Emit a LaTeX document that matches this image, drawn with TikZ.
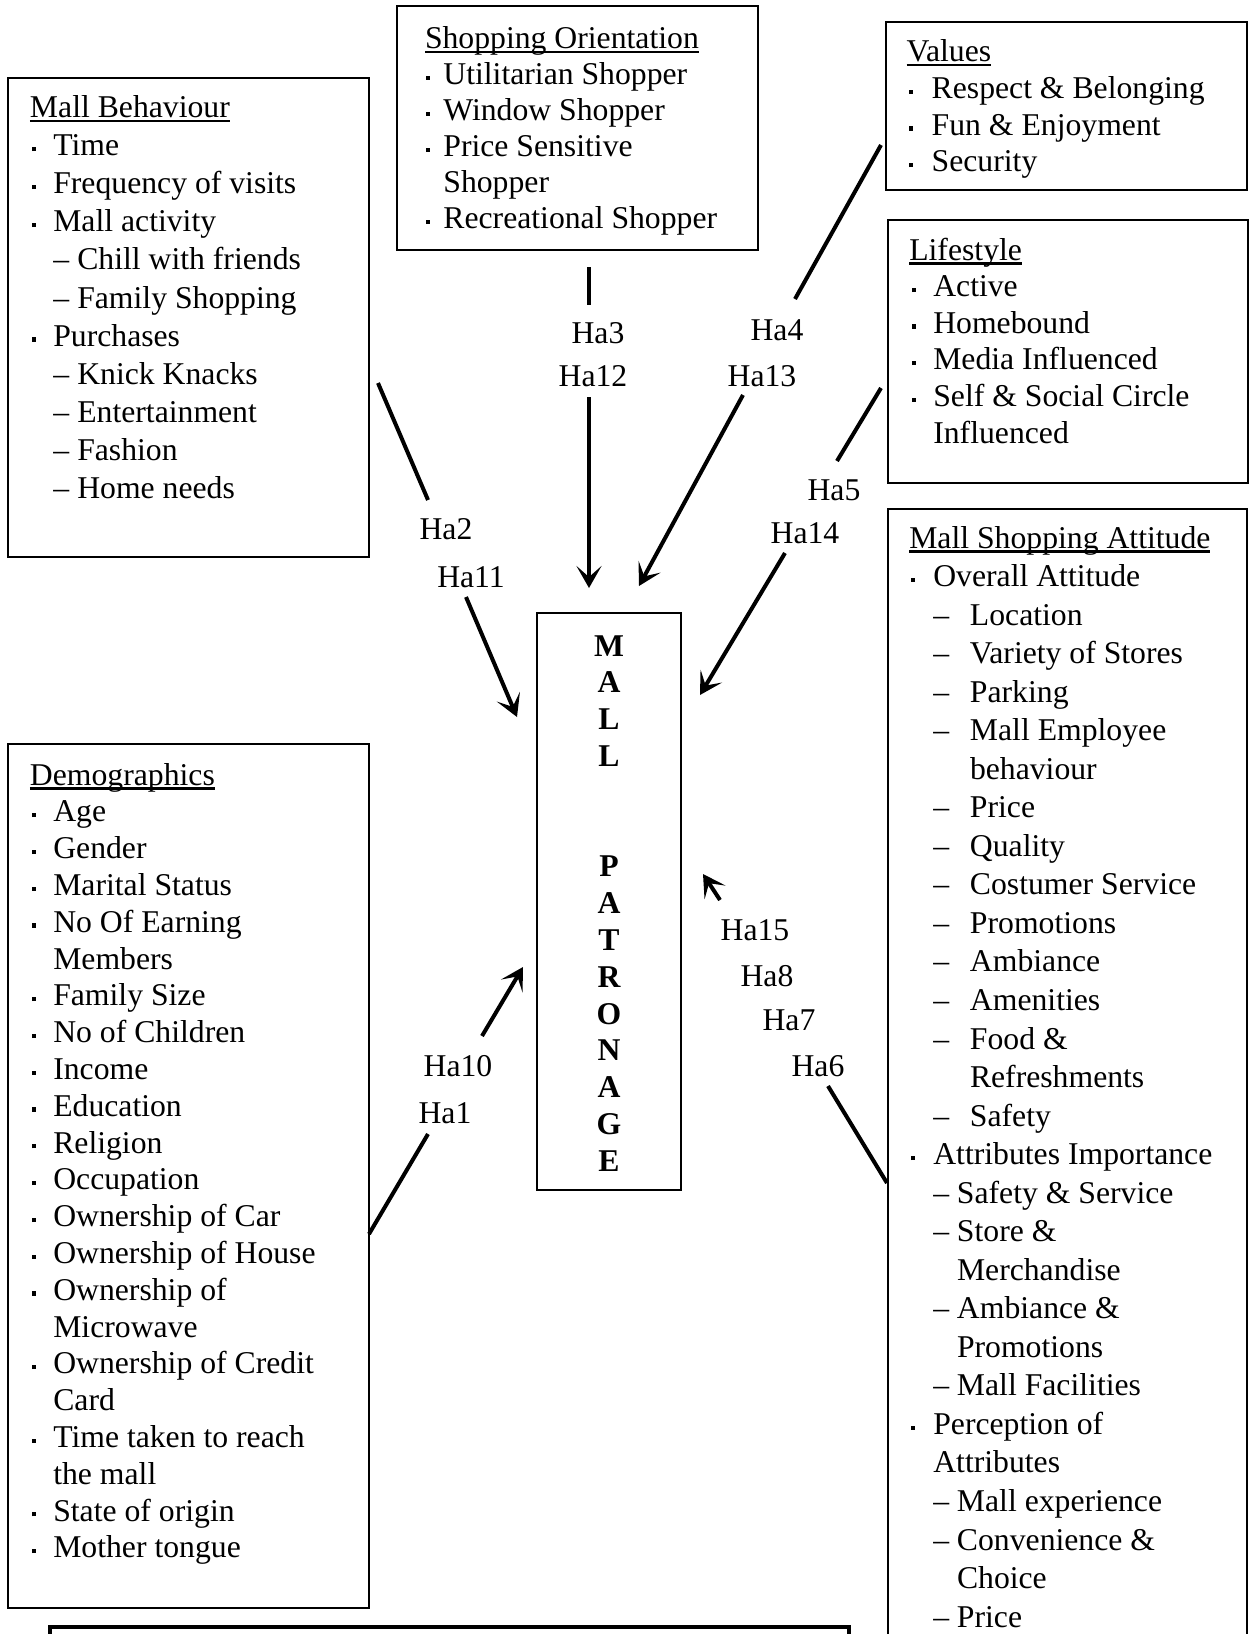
\documentclass[tikz,border=0pt]{standalone}
\usepackage{fontspec}
\setmainfont{Liberation Serif}
\usetikzlibrary{arrows.meta}

\newdimen\bulo \newdimen\txto \newdimen\dsho \newdimen\dtxo \newdimen\dshA \newdimen\dtxA
\newcommand\bulsq{\raisebox{2.3pt}{\rule{1.9pt}{2.1pt}}}
\newcommand\ulx[1]{\setbox0\hbox{#1}\rlap{\rule[-2.3pt]{\wd0}{1.1pt}}\box0}
\newcommand\TT[1]{\hbox{\ulx{#1}}}
\newcommand\BL[1]{\hbox{\rlap{\hskip\bulo\relax\bulsq}\hskip\txto\relax #1}}
\newcommand\CN[1]{\hbox{\hskip\txto\relax #1}}
\newcommand\DS[1]{\hbox{\rlap{\hskip\dsho\relax\textendash}\hskip\dtxo\relax #1}}
\newcommand\DC[1]{\hbox{\hskip\dtxo\relax #1}}
\newcommand\DA[1]{\hbox{\rlap{\hskip\dshA\relax\textendash}\hskip\dtxA\relax #1}}
\newcommand\DAC[1]{\hbox{\hskip\dtxA\relax #1}}
\newcommand\ctrl[1]{\hbox to 0pt{\hss#1\hss}}
\newcommand\boxlines[2]{\vtop{\baselineskip=#1\lineskiplimit=-\maxdimen\lineskip=0pt #2}}

\begin{document}
\begin{tikzpicture}[x=0.5pt,y=-0.5pt,
  font=\fontsize{15.85pt}{18.4pt}\selectfont,
  boxst/.style={draw, line width=1.1pt, inner sep=0pt, outer sep=0pt, anchor=north west},
  txt/.style={anchor=base west, inner sep=0pt, outer sep=0pt},
  lab/.style={inner sep=0pt, outer sep=0pt},
  conn/.style={line width=2pt},
  arr/.style={conn, -{Stealth[length=11pt,width=12.5pt,inset=5.5pt]}}]

\useasboundingbox (0,0) rectangle (1249,1634);
\clip (0,0) rectangle (1249,1634);

% ---------- boxes ----------
\node[boxst, minimum width=180.5pt, minimum height=239.5pt] (mb) at (8,78) {};
\node[boxst, minimum width=180.5pt, minimum height=122pt] (so) at (397,6) {};
\node[boxst, minimum width=180.5pt, minimum height=84pt] (val) at (886,22) {};
\node[boxst, minimum width=180pt, minimum height=131.5pt] (life) at (888,220) {};
\node[boxst, minimum width=180.5pt, minimum height=432pt] (demo) at (8,744) {};
\node[boxst, minimum width=179.5pt, minimum height=600pt] (msa) at (888,509) {};
\node[boxst, minimum width=72pt, minimum height=288.5pt] (mp) at (537,613) {};
\node[boxst, line width=1.6pt, minimum width=399.5pt, minimum height=40pt] (bot) at (50,1627) {};

% ---------- box texts ----------
\node[txt] (mbT) at (30,117.5) {\boxlines{19.05pt}{%
  \bulo=1.15pt \txto=11.65pt \dsho=11.65pt \dtxo=23.65pt
  \TT{Mall Behaviour}
  \BL{Time}
  \BL{Frequency of visits}
  \BL{Mall activity}
  \DS{Chill with friends}
  \DS{Family Shopping}
  \BL{Purchases}
  \DS{Knick Knacks}
  \DS{Entertainment}
  \DS{Fashion}
  \DS{Home needs}}};

\node[txt] (soT) at (425,48.3) {\boxlines{18pt}{%
  \bulo=0.5pt \txto=9.2pt
  \TT{Shopping Orientation}
  \BL{Utilitarian Shopper}
  \BL{Window Shopper}
  \BL{Price Sensitive}
  \CN{Shopper}
  \BL{Recreational Shopper}}};

\node[txt] (valT) at (906.7,61.7) {\boxlines{18.35pt}{%
  \bulo=1.3pt \txto=12.5pt
  \TT{Values}
  \BL{Respect \& Belonging}
  \BL{Fun \& Enjoyment}
  \BL{Security}}};

\node[txt] (lifeT) at (909.3,260) {\boxlines{18.3pt}{%
  \bulo=1.2pt \txto=12pt
  \TT{Lifestyle}
  \BL{Active}
  \BL{Homebound}
  \BL{Media Influenced}
  \BL{Self \& Social Circle}
  \CN{Influenced}}};

\node[txt] (demoT) at (30,785) {\boxlines{18.4pt}{%
  \bulo=1.15pt \txto=11.65pt
  \TT{Demographics}
  \BL{Age}
  \BL{Gender}
  \BL{Marital Status}
  \BL{No Of Earning}
  \CN{Members}
  \BL{Family Size}
  \BL{No of Children}
  \BL{Income}
  \BL{Education}
  \BL{Religion}
  \BL{Occupation}
  \BL{Ownership of Car}
  \BL{Ownership of House}
  \BL{Ownership of}
  \CN{Microwave}
  \BL{Ownership of Credit}
  \CN{Card}
  \BL{Time taken to reach}
  \CN{the mall}
  \BL{State of origin}
  \BL{Mother tongue}}};

\node[txt] (msaT) at (909.3,548) {\boxlines{19.27pt}{%
  \bulo=0.75pt \txto=12pt \dshA=12pt \dtxA=30.35pt \dsho=12pt \dtxo=23.85pt
  \TT{Mall Shopping Attitude}
  \BL{Overall Attitude}
  \DA{Location}
  \DA{Variety of Stores}
  \DA{Parking}
  \DA{Mall Employee}
  \DAC{behaviour}
  \DA{Price}
  \DA{Quality}
  \DA{Costumer Service}
  \DA{Promotions}
  \DA{Ambiance}
  \DA{Amenities}
  \DA{Food \&}
  \DAC{Refreshments}
  \DA{Safety}
  \BL{Attributes Importance}
  \DS{Safety \& Service}
  \DS{Store \&}
  \DC{Merchandise}
  \DS{Ambiance \&}
  \DC{Promotions}
  \DS{Mall Facilities}
  \BL{Perception of}
  \CN{Attributes}
  \DS{Mall experience}
  \DS{Convenience \&}
  \DC{Choice}
  \DS{Price}}};

\node[anchor=base, inner sep=0pt] (mpT) at (609,656) {\bfseries\boxlines{18.4pt}{%
  \ctrl{M}\ctrl{A}\ctrl{L}\ctrl{L}\ctrl{}\ctrl{}\ctrl{P}\ctrl{A}\ctrl{T}%
  \ctrl{R}\ctrl{O}\ctrl{N}\ctrl{A}\ctrl{G}\ctrl{E}}};

% ---------- labels ----------
\node[lab] (h3)  at (598,333) {Ha3};
\node[lab] (h12) at (593,376) {Ha12};
\node[lab] (h4)  at (777,330) {Ha4};
\node[lab] (h13) at (762,376) {Ha13};
\node[lab] (h2)  at (446,529) {Ha2};
\node[lab] (h11) at (471,577) {Ha11};
\node[lab] (h5)  at (834,490) {Ha5};
\node[lab] (h14) at (805,533) {Ha14};
\node[lab] (h10) at (458,1066) {Ha10};
\node[lab] (h1)  at (445,1113) {Ha1};
\node[lab] (h15) at (755,930) {Ha15};
\node[lab] (h8)  at (767,976) {Ha8};
\node[lab] (h7)  at (789,1020) {Ha7};
\node[lab] (h6)  at (818,1066) {Ha6};

% ---------- connector end points ----------
\coordinate (l3a) at (589,267);  \coordinate (l3b) at (589,305);
\coordinate (a12s) at (589,397); \coordinate (a12e) at (589,588);
\coordinate (l4a) at (881,145);  \coordinate (l4b) at (795,299);
\coordinate (a13s) at (743,395); \coordinate (a13e) at (639,586);
\coordinate (l2a) at (378,383);  \coordinate (l2b) at (428,500);
\coordinate (a11s) at (466,597); \coordinate (a11e) at (517,717);
\coordinate (l5a) at (881,388);  \coordinate (l5b) at (837,461);
\coordinate (a14s) at (785,553); \coordinate (a14e) at (700,695);
\coordinate (a10s) at (482,1036); \coordinate (a10e) at (523,967);
\coordinate (l1a) at (428,1134); \coordinate (l1b) at (369,1234);
\coordinate (a15s) at (720,900); \coordinate (a15e) at (703,874);
\coordinate (l6a) at (828,1086); \coordinate (l6b) at (887,1183);

% ---------- connectors ----------
\draw[conn] (l3a) -- (l3b);
\draw[arr] (a12s) -- (a12e);
\draw[conn] (l4a) -- (l4b);
\draw[arr] (a13s) -- (a13e);
\draw[conn] (l2a) -- (l2b);
\draw[arr] (a11s) -- (a11e);
\draw[conn] (l5a) -- (l5b);
\draw[arr] (a14s) -- (a14e);
\draw[arr] (a10s) -- (a10e);
\draw[conn] (l1a) -- (l1b);
\draw[arr] (a15s) -- (a15e);
\draw[conn] (l6a) -- (l6b);
\end{tikzpicture}
\end{document}
